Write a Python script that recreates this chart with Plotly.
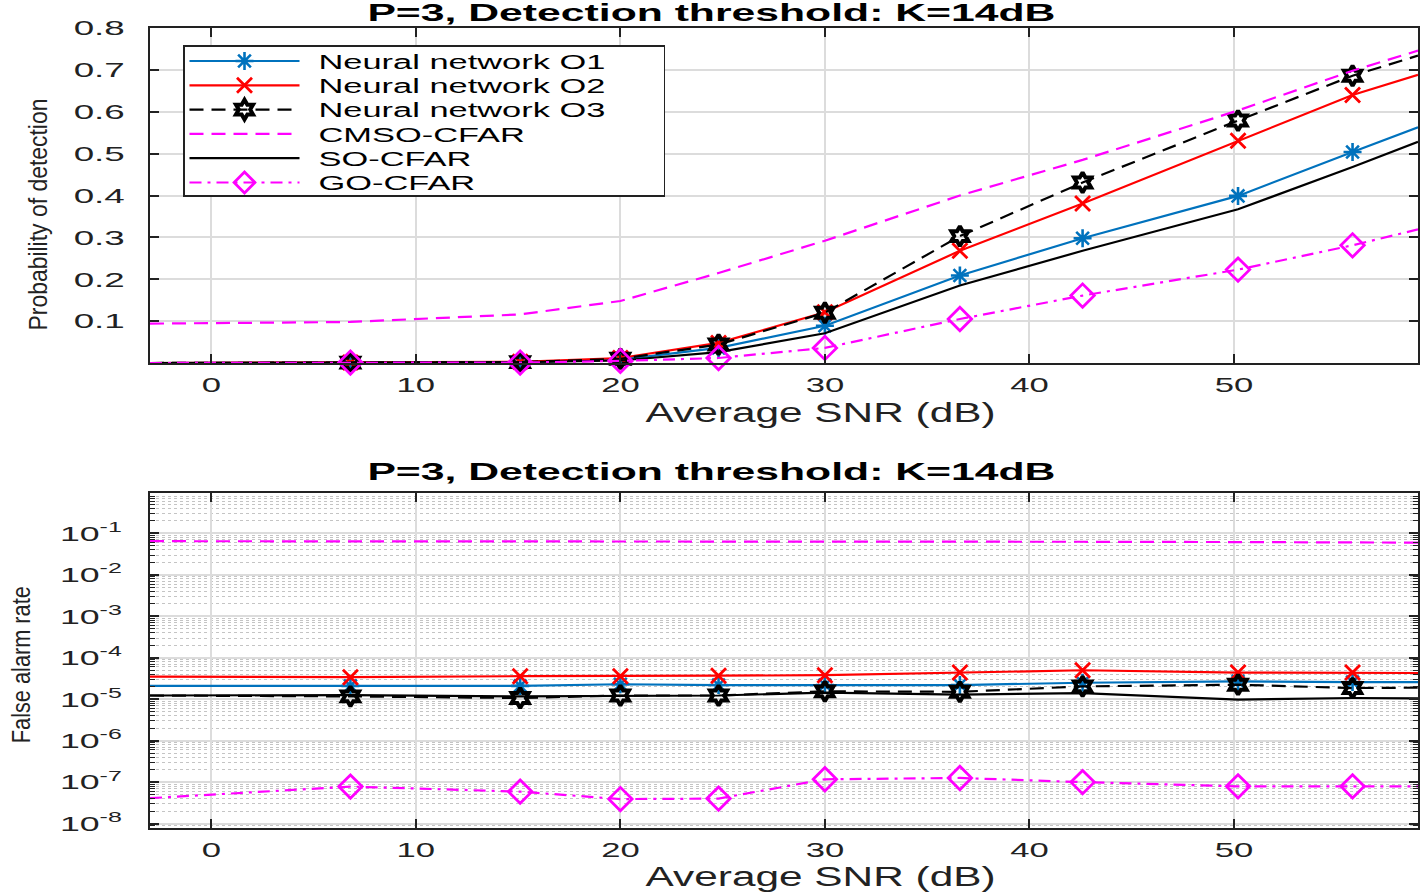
import plotly.graph_objects as go

# ---------------- data ----------------
snr_db = [-3.0, 6.8, 15.1, 20.0, 24.8, 30.0, 36.6, 42.6, 50.2, 55.8, 59.0]
# markers are drawn on the inner points only (first/last points run to the axis edges)
MARK = slice(1, 10)

series_names = ["Neural network O1", "Neural network O2", "Neural network O3",
                "CMSO-CFAR", "SO-CFAR", "GO-CFAR"]

# Probability of detection
pd_o1 = [0.000, 0.001, 0.002, 0.008, 0.036, 0.089, 0.209, 0.298, 0.399, 0.504, 0.563]
pd_o2 = [0.000, 0.001, 0.003, 0.012, 0.048, 0.121, 0.268, 0.381, 0.531, 0.640, 0.688]
pd_o3 = [0.000, 0.001, 0.002, 0.010, 0.044, 0.120, 0.303, 0.431, 0.579, 0.686, 0.734]
pd_cmso = [0.094, 0.098, 0.116, 0.148, 0.215, 0.292, 0.400, 0.485, 0.603, 0.698, 0.746]
pd_so = [0.000, 0.001, 0.002, 0.006, 0.026, 0.071, 0.185, 0.268, 0.367, 0.468, 0.528]
pd_go = [0.000, 0.001, 0.001, 0.005, 0.012, 0.036, 0.105, 0.161, 0.223, 0.281, 0.319]

# False alarm rate
fa_o1 = [2.1e-5, 2.1e-5, 2.1e-5, 2.3e-5, 2.2e-5, 2.2e-5, 2.2e-5, 2.5e-5, 2.7e-5, 2.6e-5, 2.6e-5]
fa_o2 = [3.5e-5, 3.4e-5, 3.6e-5, 3.6e-5, 3.7e-5, 3.8e-5, 4.4e-5, 5.0e-5, 4.4e-5, 4.4e-5, 4.3e-5]
fa_o3 = [1.23e-5, 1.17e-5, 1.07e-5, 1.23e-5, 1.23e-5, 1.55e-5, 1.51e-5, 2.04e-5, 2.24e-5, 1.86e-5, 1.9e-5]
fa_cmso = [0.065, 0.065, 0.065, 0.065, 0.065, 0.064, 0.064, 0.063, 0.062, 0.060, 0.060]
fa_so = [1.23e-5, 1.26e-5, 1.17e-5, 1.2e-5, 1.23e-5, 1.45e-5, 1.29e-5, 1.41e-5, 9.8e-6, 1.07e-5, 1.05e-5]
fa_go = [4.1e-8, 7.8e-8, 5.9e-8, 3.9e-8, 4.0e-8, 1.17e-7, 1.26e-7, 1.0e-7, 7.9e-8, 7.9e-8, 7.9e-8]

pd_values = [pd_o1, pd_o2, pd_o3, pd_cmso, pd_so, pd_go]
fa_values = [fa_o1, fa_o2, fa_o3, fa_cmso, fa_so, fa_go]

x_ticks = [0, 10, 20, 30, 40, 50]
pd_ticks = [0.1, 0.2, 0.3, 0.4, 0.5, 0.6, 0.7, 0.8]
fa_ticks = [1e-8, 1e-7, 1e-6, 1e-5, 1e-4, 1e-3, 1e-2, 1e-1]
fa_tick_text = ["10<sup>-8</sup>", "10<sup>-7</sup>", "10<sup>-6</sup>", "10<sup>-5</sup>",
                "10<sup>-4</sup>", "10<sup>-3</sup>", "10<sup>-2</sup>", "10<sup>-1</sup>"]

title_text = "P=3, Detection threshold: K=14dB"
x_title = "Average SNR (dB)"
y_title_top = "Probability of detection"
y_title_bottom = "False alarm rate"

# ---------------- styles ----------------
styles = [
    dict(color="#0072BD", dash="solid", symbol="asterisk-open", size=15, mlw=2.6),
    dict(color="#FF0000", dash="solid", symbol="x-thin-open", size=15, mlw=2.8),
    dict(color="#000000", dash="14px,8px", symbol="hexagram-open", size=15, mlw=4.0),
    dict(color="#FF00FF", dash="14px,8px", symbol=None, size=0, mlw=0),
    dict(color="#000000", dash="solid", symbol=None, size=0, mlw=0),
    dict(color="#FF00FF", dash="12px,6px,3px,6px", symbol="diamond-open", size=18, mlw=2.8),
]
LW = 2.2
FONT = "Liberation Sans, Arial, Helvetica, sans-serif"
AX = "#222222"

fig = go.Figure()

for i, (name, st) in enumerate(zip(series_names, styles)):
    for yvals, xa, ya in ((pd_values[i], "x", "y"), (fa_values[i], "x2", "y2")):
        has_marker = st["symbol"] is not None
        is_legend_line = (not has_marker) and xa == "x"
        fig.add_trace(go.Scatter(
            x=snr_db, y=yvals, mode="lines", name=name,
            line=dict(color=st["color"], width=LW, dash=st["dash"]),
            xaxis=xa, yaxis=ya, showlegend=is_legend_line, legendrank=i + 1,
            cliponaxis=False, hoverinfo="skip"))
        if has_marker:
            fig.add_trace(go.Scatter(
                x=snr_db[MARK], y=yvals[MARK], mode="markers", name=name,
                marker=dict(symbol=st["symbol"], size=st["size"], color=st["color"],
                            line=dict(color=st["color"], width=st["mlw"])),
                xaxis=xa, yaxis=ya, showlegend=False,
                cliponaxis=False, hoverinfo="skip"))
    if st["symbol"] is not None:
        # legend entry (line + marker sample)
        fig.add_trace(go.Scatter(
            x=[None], y=[None], mode="lines+markers", name=name,
            line=dict(color=st["color"], width=LW, dash=st["dash"]),
            marker=dict(symbol=st["symbol"], size=st["size"], color=st["color"],
                        line=dict(color=st["color"], width=st["mlw"])),
            xaxis="x", yaxis="y", showlegend=True, legendrank=i + 1))

# ---------------- layout ----------------
W, H = 1425, 892
ML, MR, MT, MB = 150, 7, 28, 64
PW, PH = W - ML - MR, H - MT - MB


def px_x(p):
    return (p - ML) / PW


def px_y(p):
    return (H - MB - p) / PH


tickfont = dict(family=FONT, size=21, color=AX)
ax_common = dict(showline=True, linecolor=AX, linewidth=2, mirror="ticks",
                 ticks="inside", ticklen=9, tickwidth=1.5, tickcolor=AX,
                 showgrid=True, gridcolor="#dcdcdc", gridwidth=1.5, zeroline=False,
                 tickfont=tickfont)

fig.update_layout(
    width=W, height=H,
    margin=dict(l=ML, r=MR, t=MT, b=MB, autoexpand=False),
    paper_bgcolor="white", plot_bgcolor="white", hovermode=False,
    xaxis=dict(domain=[0, 1], range=[-3, 59], tickmode="array", tickvals=x_ticks,
               anchor="y", ticklabelstandoff=2, **ax_common),
    yaxis=dict(domain=[px_y(363), 1], range=[0, 0.8], tickmode="array", tickvals=pd_ticks,
               ticktext=["%.1f" % v for v in pd_ticks], anchor="x",
               ticklabelstandoff=19, **ax_common),
    xaxis2=dict(domain=[0, 1], range=[-3, 59], tickmode="array", tickvals=x_ticks,
                anchor="y2", ticklabelstandoff=2, **ax_common),
    yaxis2=dict(domain=[0, px_y(493)], type="log", range=[-8.107, -0.024],
                tickmode="array", tickvals=fa_ticks, ticktext=fa_tick_text, anchor="x2",
                ticklabelstandoff=22,
                minor=dict(dtick="D1", ticks="inside", ticklen=5, tickwidth=1, tickcolor=AX,
                           showgrid=True, gridcolor="#c4c4c4", griddash="dot", gridwidth=1),
                **ax_common),
    legend=dict(x=px_x(183), y=px_y(45), xanchor="left", yanchor="top",
                bgcolor="white", bordercolor=AX, borderwidth=1.5,
                font=dict(family=FONT, size=20, color="#000000"),
                itemwidth=110, tracegroupgap=0, traceorder="normal"),
)

ann_font = dict(family=FONT, size=27, color=AX)
title_font = dict(family=FONT, size=24, color="#000000", weight="bold")
ylab_font = dict(family=FONT, size=25, color=AX)
annotations = [
    dict(text=title_text, x=px_x(711), y=px_y(13), font=title_font),
    dict(text=title_text, x=px_x(711), y=px_y(472), font=title_font),
    dict(text=x_title, x=px_x(820), y=px_y(413), font=ann_font),
    dict(text=x_title, x=px_x(820), y=px_y(877), font=ann_font),
    dict(text=y_title_top, x=px_x(38), y=px_y(214), font=ylab_font, textangle=-90),
    dict(text=y_title_bottom, x=px_x(21), y=px_y(665), font=ylab_font, textangle=-90),
]
for a in annotations:
    fig.add_annotation(xref="paper", yref="paper", xanchor="center", yanchor="middle",
                       showarrow=False, **a)

# The reference figure's text is horizontally stretched; reproduce it with SVG textLength.
post_js = """
document.body.style.margin = '0';
document.body.style.padding = '0';
var gd = document.getElementById('{plot_id}');
function setLen(t, L){ t.setAttribute('textLength', L.toFixed(1)); t.setAttribute('lengthAdjust', 'spacingAndGlyphs'); }
function stretch(sel, f){ gd.querySelectorAll(sel).forEach(function(t){ var w = t.getComputedTextLength(); if (w > 0) setLen(t, w * f); }); }
stretch('g.xtick text', 1.65); stretch('g.x2tick text', 1.65);
stretch('g.ytick text', 1.75); stretch('g.y2tick text', 1.7);
stretch('text.legendtext', 1.72);
var targets = {};
targets['P=3, Detection threshold: K=14dB'] = 688;
targets['Average SNR (dB)'] = 350;
targets['Probability of detection'] = 232;
targets['False alarm rate'] = 157;
gd.querySelectorAll('text.annotation-text').forEach(function(t){ var L = targets[t.textContent]; if (L) setLen(t, L); });
var leg = gd.querySelector('g.legend');
if (leg) {
  var sb = leg.querySelector('g.scrollbox'); if (sb) sb.removeAttribute('clip-path');
  var items = leg.querySelectorAll('g.traces');
  items.forEach(function(g, i){
    var tr = g.getAttribute('transform') || '';
    var m = /translate\\(\\s*([-\\d.e]+)[ ,]+([-\\d.e]+)\\s*\\)/.exec(tr);
    var x = m ? parseFloat(m[1]) : 1.5;
    g.setAttribute('transform', 'translate(' + x + ',' + (16 + i * 24.3).toFixed(1) + ')');
  });
  var maxEnd = 0;
  leg.querySelectorAll('text.legendtext').forEach(function(t){
    var x = (parseFloat(t.getAttribute('x')) || 0) + 14;
    t.setAttribute('x', x.toFixed(1));
    var L = parseFloat(t.getAttribute('textLength')) || t.getComputedTextLength();
    maxEnd = Math.max(maxEnd, x + L);
  });
  var bg = leg.querySelector('rect.bg');
  if (bg) { bg.setAttribute('width', (maxEnd + 60).toFixed(1)); bg.setAttribute('height', '150'); }
}
"""

fig.write_html("out.html", post_script=post_js, config={"displayModeBar": False})
